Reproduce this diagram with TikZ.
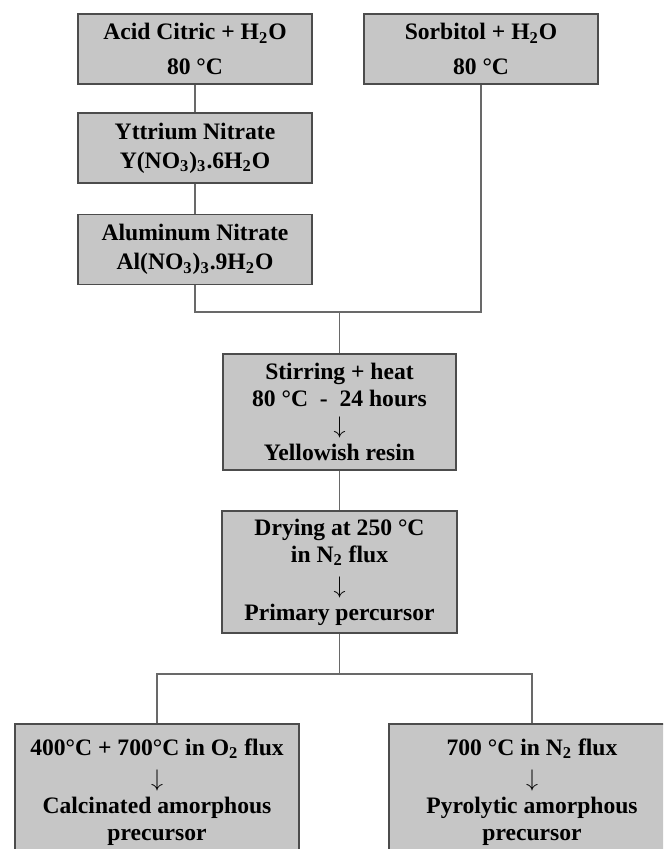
\documentclass[tikz,border=0pt]{standalone}
\usepackage{fontspec}
\setmainfont{Liberation Serif}
\usetikzlibrary{positioning}
\definecolor{boxgray}{RGB}{198,198,198}
\definecolor{linegray}{RGB}{105,105,105}
\newcommand{\down}{$\downarrow$}

\begin{document}
\begin{tikzpicture}[x=0.5pt, y=-0.5pt,
  stepbox/.style={draw=black!70, fill=boxgray, line width=0.6pt, inner sep=0pt,
    align=center, font=\fontsize{11.8}{13.5}\selectfont\bfseries},
  link/.style={draw=linegray, line width=0.6pt}]

\useasboundingbox (0,0) rectangle (663,849);
\clip (0,0) rectangle (663,849);

% starting solutions
\node[stepbox, minimum width=117pt, minimum height=35pt] (acid) at (195,49) {Acid Citric + H\textsubscript{2}O\\[4pt]80 °C};
\node[stepbox, minimum width=117pt, minimum height=35pt] (sorb) at (481,49) {Sorbitol + H\textsubscript{2}O\\[4pt]80 °C};
\node[stepbox, minimum width=117pt, minimum height=35pt] (ytt) at (195,148) {Yttrium Nitrate\\[1pt]Y(NO\textsubscript{3})\textsubscript{3}.6H\textsubscript{2}O};
\node[stepbox, minimum width=117pt, minimum height=35pt] (alum) at (195,249.5) {Aluminum Nitrate\\[1pt]Al(NO\textsubscript{3})\textsubscript{3}.9H\textsubscript{2}O};

% resin and precursor
\node[stepbox, minimum width=116.5pt, minimum height=58pt] (stir) at (339.5,412) {Stirring + heat\\80 °C \ - \ 24 hours\\\down\\Yellowish resin};
\node[stepbox, minimum width=117.5pt, minimum height=61pt] (dry) at (339.5,572) {Drying at 250 °C\\in N\textsubscript{2} flux\\[2pt]\down\\Primary percursor};

% heat treatments
\node[stepbox, minimum width=142pt, minimum height=68pt] (calc) at (157,792) {400°C + 700°C in O\textsubscript{2} flux\\[2pt]\down\\Calcinated amorphous\\precursor};
\node[stepbox, minimum width=143pt, minimum height=68pt] (pyro) at (532,792) {700 °C in N\textsubscript{2} flux\\[2pt]\down\\Pyrolytic amorphous\\precursor};

\coordinate (mix) at (339.5,312);
\coordinate (split) at (339.5,674);

\draw[link] (acid) -- (ytt);
\draw[link] (ytt) -- (alum);
\draw[link] (alum.south) |- (mix) -| (sorb.south);
\draw[link] (mix) -- (stir.north);
\draw[link] (stir) -- (dry);
\draw[link] (dry.south) -- (split);
\draw[link] (calc.north) |- (split) -| (pyro.north);

\end{tikzpicture}
\end{document}
